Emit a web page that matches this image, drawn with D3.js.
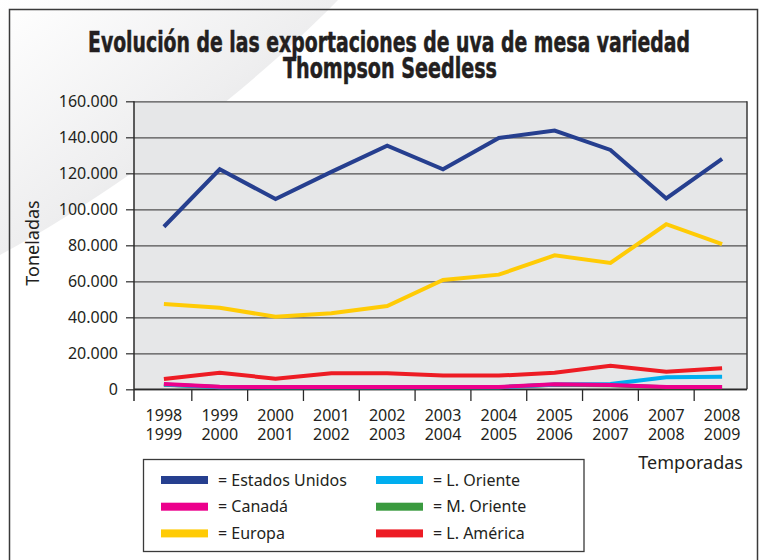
<!DOCTYPE html>
<html>
<head>
<meta charset="utf-8">
<script src="https://cdn.jsdelivr.net/npm/d3@7"></script>
<style>
  body { margin: 0; background: #fff; }
  svg { display: block; }
  text { font-family: "Noto Sans", "Open Sans", sans-serif; fill: #231f20; }
</style>
</head>
<body>
<div id="chart"></div>
<script>
// seasons (two-line tick labels)
var seasonsTop = ["1998", "1999", "2000", "2001", "2002", "2003", "2004", "2005", "2006", "2007", "2008"];
var seasonsBottom = ["1999", "2000", "2001", "2002", "2003", "2004", "2005", "2006", "2007", "2008", "2009"];

// tonnes per season
var estadosUnidos = [90300, 122200, 105700, 120800, 135300, 122200, 139600, 143700, 133000, 106000, 128000];
var canada = [2900, 1400, 1300, 1300, 1300, 1300, 1300, 2800, 2400, 1300, 1300];
var europa = [47400, 45300, 40300, 42200, 46300, 60700, 63700, 74400, 70200, 91700, 80700];
var lOriente = [2700, 1200, 1100, 1100, 1100, 1100, 1100, 2600, 2900, 6700, 7000];
var mOriente = [2500, 1300, 1200, 1200, 1200, 1200, 1200, 2500, 2300, 1200, 1200];
var lAmerica = [5700, 9200, 5900, 8900, 8900, 7600, 7600, 9200, 13100, 9800, 11700];

var yTicks = [0, 20000, 40000, 60000, 80000, 100000, 120000, 140000, 160000];

var seriesNames = ["Estados Unidos", "Canadá", "Europa", "L. Oriente", "M. Oriente", "L. América"];
var seriesColors = ["#263f8f", "#ec008c", "#ffcb05", "#00aeef", "#3a9a3f", "#ed1c24"];
var seriesValues = [estadosUnidos, canada, europa, lOriente, mOriente, lAmerica];
// order the lines are painted (bottom first)
var drawOrder = [4, 3, 2, 0, 5, 1];

var svgWidth = 762, svgHeight = 560;
var plotLeft = 134, plotRight = 747, plotTop = 101.3, plotBottom = 389.3;

var svg = d3.select("#chart").append("svg")
  .attr("width", svgWidth)
  .attr("height", svgHeight);

// soft grey swoosh in the upper left corner
var defs = svg.append("defs");
var grad = defs.append("linearGradient")
  .attr("id", "swoosh")
  .attr("x1", "0").attr("y1", "0").attr("x2", "1").attr("y2", "1");
grad.append("stop").attr("offset", "0").attr("stop-color", "#ffffff");
grad.append("stop").attr("offset", "0.5").attr("stop-color", "#eeeeef");
grad.append("stop").attr("offset", "1").attr("stop-color", "#d6d7d9");
svg.append("path")
  .attr("d", "M0,0 L338,0 C250,90 120,190 0,255 Z")
  .attr("fill", "url(#swoosh)");

// outer frame
svg.append("path")
  .attr("d", "M9.5,560 L9.5,9.5 L757.5,9.5 L757.5,560")
  .attr("fill", "none")
  .attr("stroke", "#3a3a3a")
  .attr("stroke-width", 1.5);

// title
var titleFont = '"Liberation Sans Narrow", "DejaVu Sans Condensed", "Arial Narrow", sans-serif';
var titleLines = [
  { text: "Evolución de las exportaciones de uva de mesa variedad", x: 389, y: 52, w: 602 },
  { text: "Thompson Seedless", x: 390, y: 78, w: 214 }
];
svg.selectAll(".title")
  .data(titleLines)
  .enter()
  .append("text")
  .attr("class", "title")
  .attr("x", d => d.x).attr("y", d => d.y)
  .attr("text-anchor", "middle")
  .attr("textLength", d => d.w)
  .attr("lengthAdjust", "spacingAndGlyphs")
  .style("font-family", titleFont)
  .style("font-stretch", "condensed")
  .style("font-weight", "bold")
  .style("font-size", "28px")
  .style("stroke", "#231f20")
  .style("stroke-width", 0.5)
  .text(d => d.text);

// scales
var x = d3.scaleBand()
  .domain(seasonsTop)
  .range([136, 750]);

var y = d3.scaleLinear()
  .domain([0, 160000])
  .range([plotBottom, plotTop]);

var locale = d3.formatLocale({ decimal: ",", thousands: ".", grouping: [3], currency: ["$", ""] });
var fmt = locale.format(",.0f");

// plot background
svg.append("rect")
  .attr("x", plotLeft).attr("y", plotTop)
  .attr("width", plotRight - plotLeft)
  .attr("height", plotBottom - plotTop)
  .attr("fill", "#e6e7e8");

// horizontal grid lines
var grid = svg.append("g")
  .attr("transform", `translate(${plotLeft},0)`)
  .call(d3.axisLeft(y).tickValues(yTicks).tickSize(-(plotRight - plotLeft)).tickFormat(""));
grid.select(".domain").remove();
grid.selectAll("line").attr("stroke", "#505050").attr("stroke-width", 1.3);

// y axis with ticks and labels
var yAxis = svg.append("g")
  .attr("transform", `translate(${plotLeft},0)`)
  .call(d3.axisLeft(y).tickValues(yTicks).tickSize(8).tickPadding(8).tickFormat(fmt));
yAxis.select(".domain").remove();
yAxis.selectAll("line").attr("stroke", "#3a3a3a").attr("stroke-width", 1.3);
yAxis.selectAll("text")
  .style("font-family", '"Noto Sans", sans-serif')
  .style("font-size", "16px")
  .attr("fill", "#231f20");

// plot borders
svg.append("line")
  .attr("x1", plotLeft).attr("x2", plotLeft)
  .attr("y1", plotTop).attr("y2", 401)
  .attr("stroke", "#2a2a2a").attr("stroke-width", 1.5);
svg.append("line")
  .attr("x1", plotRight).attr("x2", plotRight)
  .attr("y1", plotTop).attr("y2", plotBottom)
  .attr("stroke", "#3a3a3a").attr("stroke-width", 1.5);

// x axis: ticks between seasons, labels on the seasons
var xAxis = svg.append("g");
xAxis.append("line")
  .attr("x1", plotLeft).attr("x2", plotRight)
  .attr("y1", plotBottom).attr("y2", plotBottom)
  .attr("stroke", "#2a2a2a").attr("stroke-width", 1.5);
xAxis.selectAll(".xtick")
  .data(seasonsTop.slice(1))
  .enter()
  .append("line")
  .attr("class", "xtick")
  .attr("x1", d => x(d)).attr("x2", d => x(d))
  .attr("y1", plotBottom).attr("y2", 401)
  .attr("stroke", "#2a2a2a").attr("stroke-width", 1.3);
var xLabels = xAxis.selectAll(".xlabel")
  .data(seasonsTop)
  .enter()
  .append("text")
  .attr("class", "xlabel")
  .attr("text-anchor", "middle")
  .style("font-size", "16px");
xLabels.append("tspan")
  .attr("x", d => x(d) + x.bandwidth() / 2)
  .attr("y", 421)
  .text(d => d);
xLabels.append("tspan")
  .attr("x", d => x(d) + x.bandwidth() / 2)
  .attr("y", 440)
  .text((d, i) => seasonsBottom[i]);

// axis titles
svg.append("text")
  .attr("transform", "translate(39,243) rotate(-90)")
  .attr("text-anchor", "middle")
  .style("font-size", "18px")
  .text("Toneladas");
svg.append("text")
  .attr("x", 743).attr("y", 469)
  .attr("text-anchor", "end")
  .style("font-size", "18px")
  .text("Temporadas");

// lines
var line = d3.line()
  .x((d, i) => x(seasonsTop[i]) + x.bandwidth() / 2)
  .y(d => y(d));

svg.append("g")
  .selectAll("path")
  .data(drawOrder)
  .enter()
  .append("path")
  .attr("d", k => line(seriesValues[k]))
  .attr("fill", "none")
  .attr("stroke", k => seriesColors[k])
  .attr("stroke-width", 4)
  .attr("stroke-linejoin", "miter");

// legend
var legend = svg.append("g");
legend.append("rect")
  .attr("x", 143.5).attr("y", 459.5)
  .attr("width", 440.5).attr("height", 92)
  .attr("fill", "#fff")
  .attr("stroke", "#3a3a3a")
  .attr("stroke-width", 1.3);

var legendItems = legend.selectAll(".item")
  .data(seriesNames)
  .enter()
  .append("g")
  .attr("class", "item")
  .attr("transform", (d, i) => `translate(${i < 3 ? 161 : 376},${480 + (i % 3) * 26.7})`);
legendItems.append("rect")
  .attr("x", 0).attr("y", -4)
  .attr("width", 47).attr("height", 8)
  .attr("fill", (d, i) => seriesColors[i]);
legendItems.append("text")
  .attr("x", 57).attr("y", 0)
  .attr("dy", "0.35em")
  .style("font-size", "16px")
  .text(d => "= " + d);
</script>
</body>
</html>
